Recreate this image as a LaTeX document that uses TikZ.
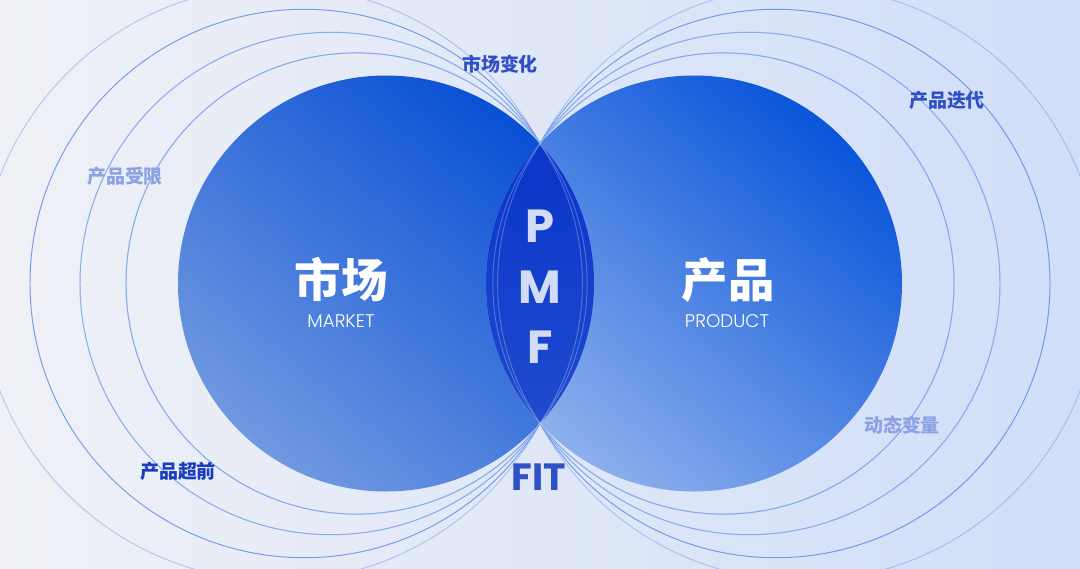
\documentclass[tikz,border=0pt]{standalone}
\usepackage{fontspec}
\setmainfont{Poppins}
\IfFontExistsTF{Poppins Light}{\newfontfamily\thin{Poppins Light}}{\newfontfamily\thin{Poppins}}
\newfontfamily\cjk{Noto Sans CJK SC}
\definecolor{bgL}{HTML}{EFF1F6}
\definecolor{bgR}{HTML}{D0DEF8}
\definecolor{mktTop}{HTML}{0A50D5}
\definecolor{mktBot}{HTML}{7099E0}
\definecolor{prdTop}{HTML}{0A55DA}
\definecolor{prdBot}{HTML}{8DB0EC}
\definecolor{lensTop}{HTML}{0530C8}
\definecolor{lensBot}{HTML}{2350D0}
\definecolor{ringblue}{HTML}{4F82E8}
\definecolor{pmfwhite}{HTML}{D3DCF6}
\definecolor{tagdark}{HTML}{1A3CC0}
\definecolor{tagmid}{HTML}{3050C8}
\definecolor{taglight}{HTML}{8CA2E2}
\tikzset{
  ring/.style={draw=ringblue, line width=0.7pt},
  tag/.style={font=\cjk\bfseries\fontsize{13.5}{16}\selectfont},
  big/.style={font=\cjk\bfseries\fontsize{33}{38}\selectfont, text=white},
  sub/.style={font=\thin\fontsize{13}{15}\selectfont, text=white},
  pmf/.style={font=\bfseries\fontsize{33}{38}\selectfont, text=pmfwhite},
}
\begin{document}
\begin{tikzpicture}[x=0.025cm, y=-0.025cm]
  \useasboundingbox (0,0) rectangle (1080,568);
  \shade[left color=bgL, right color=bgR] (0,0) rectangle (1080,568);
  \coordinate (mkt) at (386,283.5);
  \coordinate (prd) at (694,283.5);
  % rings through the two tips
  \foreach \c/\r/\o in {356.6/230.6/0.9, 331.2/251.2/0.85, 304.2/274.2/0.75, 277.4/297.4/0.35}{
    \draw[ring, draw opacity=\o] (\c,283.5) circle (\r);
    \draw[ring, draw opacity=\o] (1080-\c,283.5) circle (\r);
  }
  % the two circles
  \shade[top color=mktTop, bottom color=mktBot, shading angle=-40] (mkt) circle (208);
  \shade[top color=prdTop, bottom color=prdBot, shading angle=-40] (prd) circle (208);
  \begin{scope}
    \clip (mkt) circle (208);
    \shade[top color=lensTop, bottom color=lensBot] (prd) circle (208);
  \end{scope}
  \foreach \c/\r in {356.6/230.6, 331.2/251.2}{
    \draw[ring, draw=white, draw opacity=0.25] (\c,283.5) circle (\r);
    \draw[ring, draw=white, draw opacity=0.25] (1080-\c,283.5) circle (\r);
  }
  % texts
  \node[big] (mktname) at (341,280) {市场};
  \node[sub] (mkten) at (341,321) {MARKET};
  \node[big] (prdname) at (728,280) {产品};
  \node[sub] (prden) at (727,321) {PRODUCT};
  \node[pmf] (p) at (540,226) {P};
  \node[pmf] (m) at (540,287) {M};
  \node[pmf] (f) at (540,347) {F};
  \node[font=\bfseries\fontsize{27}{30}\selectfont, text=tagmid] (fit) at (539,477) {FIT};
  \node[tag, text=tagmid] (change) at (500,64) {市场变化};
  \node[tag, text=tagmid] (iter) at (947,100) {产品迭代};
  \node[tag, text=taglight] (limit) at (125,176) {产品受限};
  \node[tag, text=taglight] (vary) at (902,425) {动态变量};
  \node[tag, text=tagdark] (ahead) at (178,471) {产品超前};
\end{tikzpicture}
\end{document}
